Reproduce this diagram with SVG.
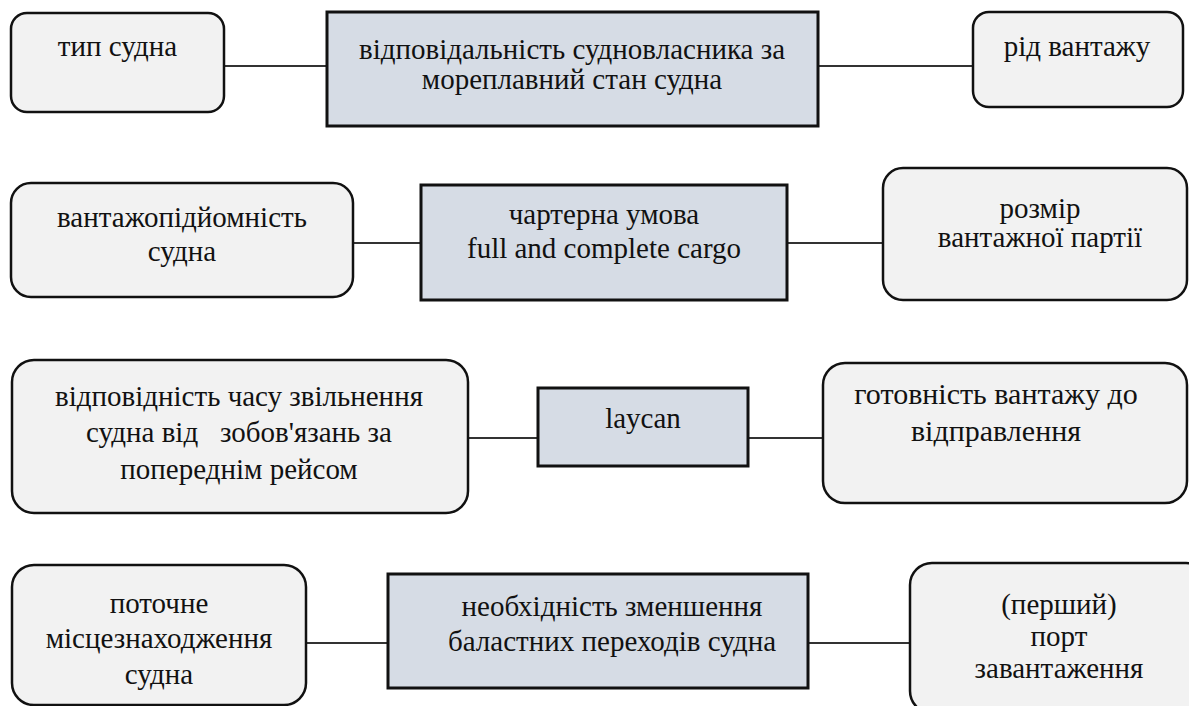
<svg xmlns="http://www.w3.org/2000/svg" width="1189" height="706" viewBox="0 0 1189 706">
<style>
.r{fill:#f2f2f2;stroke:#111;stroke-width:2.5}
.c{fill:#d6dce5;stroke:#111;stroke-width:3}
.t{font-size:29px;fill:#111;text-anchor:middle;white-space:pre}
.l{stroke:#333;stroke-width:2;fill:none}
</style>
<rect width="1189" height="706" fill="#fff"/>
<g id="connectors">
<line class="l" x1="224" y1="66" x2="327" y2="66"/>
<line class="l" x1="818" y1="66" x2="973" y2="66"/>
<line class="l" x1="353" y1="243" x2="421" y2="243"/>
<line class="l" x1="787" y1="243" x2="883" y2="243"/>
<line class="l" x1="468" y1="438" x2="538" y2="438"/>
<line class="l" x1="748" y1="438" x2="823" y2="438"/>
<line class="l" x1="306" y1="643" x2="388" y2="643"/>
<line class="l" x1="808" y1="643" x2="910" y2="643"/>
</g>
<g font-family="'Liberation Serif', Tinos, 'Times New Roman', 'DejaVu Serif', serif">
<g id="n1">
<rect class="r" x="11" y="13" width="213" height="99" rx="16"/>
<text class="t" x="117.5" y="56">тип судна</text>
</g>
<g id="n2">
<rect class="c" x="327" y="12" width="491" height="114"/>
<text class="t" x="572" y="59">відповідальність судновласника за</text>
<text class="t" x="572" y="89">мореплавний стан судна</text>
</g>
<g id="n3">
<rect class="r" x="973" y="12" width="210" height="95" rx="16"/>
<text class="t" x="1077" y="56">рід вантажу</text>
</g>
<g id="n4">
<rect class="r" x="11" y="183" width="342" height="114" rx="20"/>
<text class="t" x="182" y="227">вантажопідйомність</text>
<text class="t" x="182" y="261">судна</text>
</g>
<g id="n5">
<rect class="c" x="421" y="185" width="366" height="115"/>
<text class="t" x="604" y="224">чартерна умова</text>
<text class="t" x="604" y="258">full and complete cargo</text>
</g>
<g id="n6">
<rect class="r" x="883" y="168" width="304" height="132" rx="20"/>
<text class="t" x="1040" y="218">розмір</text>
<text class="t" x="1040" y="247">вантажної партії</text>
</g>
<g id="n7">
<rect class="r" x="12" y="360" width="456" height="153" rx="22"/>
<text class="t" x="239" y="406">відповідність часу звільнення</text>
<text class="t" x="239" y="442">судна від   зобов'язань за</text>
<text class="t" x="239" y="479">попереднім рейсом</text>
</g>
<g id="n8">
<rect class="c" x="538" y="388" width="210" height="78"/>
<text class="t" x="643" y="428">laycan</text>
</g>
<g id="n9">
<rect class="r" x="823" y="363" width="364" height="140" rx="22"/>
<text class="t" x="996" y="404" style="font-size:30px">готовність вантажу до</text>
<text class="t" x="996" y="441" style="font-size:30px">відправлення</text>
</g>
<g id="n10">
<rect class="r" x="12" y="565" width="294" height="140" rx="22"/>
<text class="t" x="159" y="613">поточне</text>
<text class="t" x="159" y="648">місцезнаходження</text>
<text class="t" x="159" y="684">судна</text>
</g>
<g id="n11">
<rect class="c" x="388" y="574" width="420" height="114"/>
<text class="t" x="612" y="616">необхідність зменшення</text>
<text class="t" x="612" y="651">баластних переходів судна</text>
</g>
<g id="n12">
<rect class="r" x="910" y="563" width="298" height="150" rx="22"/>
<text class="t" x="1059" y="614">(перший)</text>
<text class="t" x="1059" y="646">порт</text>
<text class="t" x="1059" y="678">завантаження</text>
</g>
</g>
</svg>
